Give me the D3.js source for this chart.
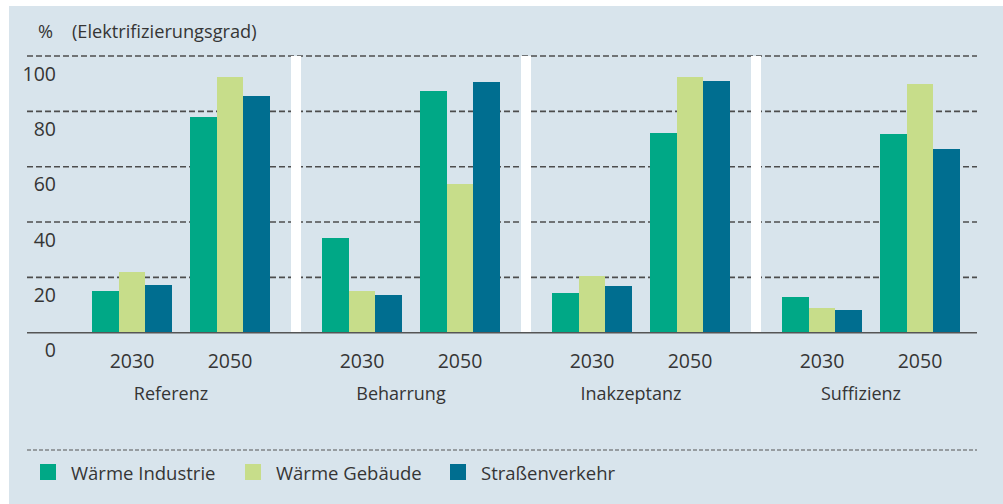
<!DOCTYPE html>
<html>
<head>
<meta charset="utf-8">
<script src="https://cdn.jsdelivr.net/npm/d3@7"></script>
<style>
  body { margin: 0; background: #fff; }
  svg { display: block; }
</style>
</head>
<body>
<script>
const scenarios = ["Referenz", "Beharrung", "Inakzeptanz", "Suffizienz"];
const years = ["2030", "2050"];
const series = ["Wärme Industrie", "Wärme Gebäude", "Straßenverkehr"];
const colors = ["#00a886", "#c7dd8a", "#006e90"];
const yTicks = [0, 20, 40, 60, 80, 100];

// values per scenario, per year: [Wärme Industrie, Wärme Gebäude, Straßenverkehr]
const referenz = { 2030: [15.2, 22.1, 17.4], 2050: [77.9, 92.4, 85.5] };
const beharrung = { 2030: [34.2, 15.1, 13.7], 2050: [87.4, 53.8, 90.6] };
const inakzeptanz = { 2030: [14.4, 20.5, 16.9], 2050: [72.2, 92.5, 91.1] };
const suffizienz = { 2030: [13.0, 9.1, 8.3], 2050: [71.7, 90.0, 66.3] };
const values = [referenz, beharrung, inakzeptanz, suffizienz];

const W = 1003;
const H = 504;
const font = "'Open Sans', sans-serif";
const textColor = "#353535";

const svg = d3
  .select("body")
  .append("svg")
  .attr("width", W)
  .attr("height", H);

svg
  .append("rect")
  .attr("x", 9)
  .attr("y", 6)
  .attr("width", W - 9)
  .attr("height", H - 6)
  .attr("fill", "#d8e4ec");

const yScale = d3.scaleLinear().domain([0, 100]).range([332.7, 56]);

const x0 = d3.scaleBand().domain(scenarios).range([66, 986]);
const x1 = d3.scaleBand().domain(years).range([17, 213]);
const x2 = d3.scaleBand().domain(series).range([9, 89]);

const gridLeft = 27;
const gridRight = 977;

// gridlines
svg
  .append("g")
  .selectAll("line")
  .data(yTicks.filter((d) => d > 0))
  .join("line")
  .attr("x1", gridLeft)
  .attr("x2", gridRight)
  .attr("y1", (d) => yScale(d))
  .attr("y2", (d) => yScale(d))
  .attr("stroke", "#4d4d4d")
  .attr("stroke-width", 1.6)
  .attr("stroke-dasharray", "6 3");

// y tick labels (sit below their gridline)
svg
  .append("g")
  .selectAll("text")
  .data(yTicks)
  .join("text")
  .attr("x", 56)
  .attr("y", (d) => yScale(d) + 24.5)
  .attr("text-anchor", "end")
  .attr("font-family", font)
  .attr("font-size", 19.5)
  .attr("fill", textColor)
  .text((d) => d);

svg
  .append("text")
  .attr("x", 38)
  .attr("y", 38)
  .attr("font-family", font)
  .attr("font-size", 18.2)
  .attr("fill", textColor)
  .text("%");

svg
  .append("text")
  .attr("x", 72)
  .attr("y", 38)
  .attr("font-family", font)
  .attr("font-size", 18.2)
  .attr("fill", textColor)
  .text("(Elektrifizierungsgrad)");

// white separators between scenarios
svg
  .append("g")
  .selectAll("rect")
  .data(scenarios.slice(1))
  .join("rect")
  .attr("x", (d) => x0(d) - 5)
  .attr("y", yScale(100))
  .attr("width", 10)
  .attr("height", yScale(0) - yScale(100))
  .attr("fill", "#fff");

// bars
const scenarioGroups = svg
  .append("g")
  .selectAll("g")
  .data(scenarios)
  .join("g")
  .attr("transform", (d) => `translate(${x0(d)},0)`);

const yearGroups = scenarioGroups
  .selectAll("g")
  .data((s, i) => years.map((y) => ({ year: y, vals: values[i][y] })))
  .join("g")
  .attr("transform", (d) => `translate(${x1(d.year)},0)`);

yearGroups
  .selectAll("rect")
  .data((d) => d.vals.map((v, k) => ({ key: series[k], value: v, color: colors[k] })))
  .join("rect")
  .attr("x", (d) => x2(d.key))
  .attr("width", x2.bandwidth())
  .attr("y", (d) => yScale(d.value))
  .attr("height", (d) => yScale(0) - yScale(d.value))
  .attr("fill", (d) => d.color)
  .attr("shape-rendering", "crispEdges");

yearGroups
  .append("text")
  .attr("x", x1.bandwidth() / 2)
  .attr("y", 368)
  .attr("text-anchor", "middle")
  .attr("font-family", font)
  .attr("font-size", 19.5)
  .attr("fill", textColor)
  .text((d) => d.year);

scenarioGroups
  .append("text")
  .attr("x", x0.bandwidth() / 2 - 10)
  .attr("y", 400)
  .attr("text-anchor", "middle")
  .attr("font-family", font)
  .attr("font-size", 18)
  .attr("fill", textColor)
  .text((d) => d);

// baseline
svg
  .append("line")
  .attr("x1", gridLeft)
  .attr("x2", gridRight)
  .attr("y1", yScale(0))
  .attr("y2", yScale(0))
  .attr("stroke", "#555")
  .attr("stroke-width", 1.6);

// legend
svg
  .append("line")
  .attr("x1", gridLeft)
  .attr("x2", gridRight)
  .attr("y1", 450)
  .attr("y2", 450)
  .attr("stroke", "#555")
  .attr("stroke-width", 1)
  .attr("stroke-dasharray", "4 2");

const legendX = [40, 245, 450];
const legend = svg
  .append("g")
  .selectAll("g")
  .data(series)
  .join("g")
  .attr("transform", (d, i) => `translate(${legendX[i]},464)`);

legend
  .append("rect")
  .attr("width", 16)
  .attr("height", 16)
  .attr("fill", (d, i) => colors[i]);

legend
  .append("text")
  .attr("x", 31)
  .attr("y", 16)
  .attr("font-family", font)
  .attr("font-size", 18.5)
  .attr("fill", textColor)
  .text((d) => d);
</script>
</body>
</html>
